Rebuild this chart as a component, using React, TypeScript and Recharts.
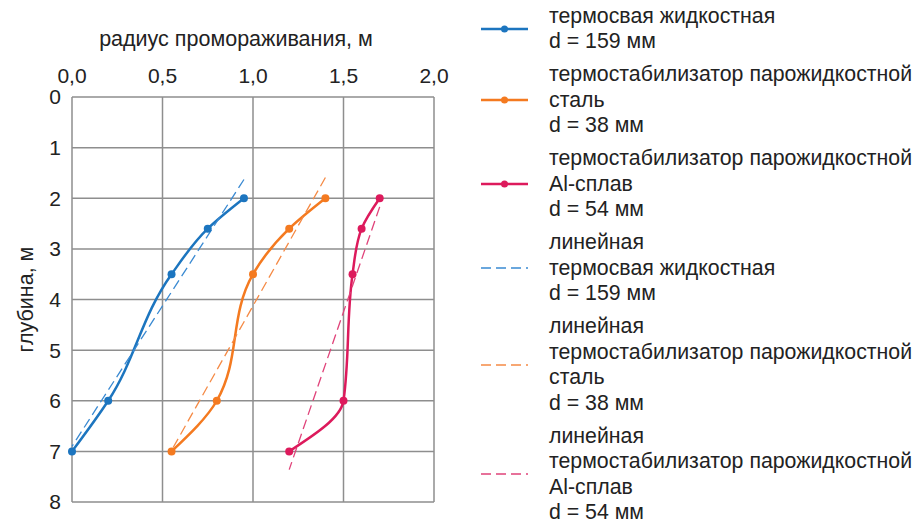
import { LineChart, Line, XAxis, YAxis, CartesianGrid } from "recharts";

// глубина, м — common to the three measured series
const depth = [2, 2.6, 3.5, 6, 7];

// радиус промораживания, м
const radiusThermos = [0.95, 0.75, 0.55, 0.2, 0];
const radiusSteel = [1.4, 1.2, 1.0, 0.8, 0.55];
const radiusAlloy = [1.7, 1.6, 1.55, 1.5, 1.2];

// linear trendline ends
const trendDepthThermos = [1.63, 6.9];
const trendRadiusThermos = [0.95, 0];
const trendDepthSteel = [1.59, 6.98];
const trendRadiusSteel = [1.4, 0.55];
const trendDepthAlloy = [2.17, 7.36];
const trendRadiusAlloy = [1.7, 1.2];

const radiusTicks = [0, 0.5, 1, 1.5, 2];
const depthTicks = [0, 1, 2, 3, 4, 5, 6, 7, 8];

const namesThermos = ["термосвая жидкостная", "d = 159 мм"];
const namesSteel = ["термостабилизатор парожидкостной", "сталь", "d = 38 мм"];
const namesAlloy = ["термостабилизатор парожидкостной", "Al-сплав", "d = 54 мм"];
const trendPrefix = "линейная";

const BLUE = "#1c75bf";
const ORANGE = "#f47a20";
const RED = "#dd1a5c";
const BLUE_T = "#3a8ad2";
const ORANGE_T = "#f58a45";
const RED_T = "#e0437a";

const FONT = "'Liberation Sans', Arial, sans-serif";
const TEXT = "#222";

const toRows = (d: number[], r: number[]) => d.map((v, i) => ({ d: v, r: r[i] }));

const series = [
  { key: "thermos", color: BLUE, rows: toRows(depth, radiusThermos), names: namesThermos },
  { key: "steel", color: ORANGE, rows: toRows(depth, radiusSteel), names: namesSteel },
  { key: "alloy", color: RED, rows: toRows(depth, radiusAlloy), names: namesAlloy },
];

const trends = [
  { key: "tThermos", color: BLUE_T, rows: toRows(trendDepthThermos, trendRadiusThermos), names: [trendPrefix, ...namesThermos] },
  { key: "tSteel", color: ORANGE_T, rows: toRows(trendDepthSteel, trendRadiusSteel), names: [trendPrefix, ...namesSteel] },
  { key: "tAlloy", color: RED_T, rows: toRows(trendDepthAlloy, trendRadiusAlloy), names: [trendPrefix, ...namesAlloy] },
];

const fmt = (v: number) => v.toFixed(1).replace(".", ",");

function LegendSample({ color, dashed }: { color: string; dashed: boolean }) {
  return (
    <svg width={47} height={10} style={{ flex: "none", marginRight: 21, marginTop: 6.5 }}>
      {dashed ? (
        <line x1={0} y1={5} x2={47} y2={5} stroke={color} strokeWidth={1.5} strokeDasharray="10 5" />
      ) : (
        <>
          <line x1={0} y1={5} x2={47} y2={5} stroke={color} strokeWidth={2.5} />
          <circle cx={23.5} cy={5} r={3.5} fill={color} />
        </>
      )}
    </svg>
  );
}

function ChartLegend() {
  const items = [
    ...series.map(s => ({ ...s, dashed: false })),
    ...trends.map(s => ({ ...s, dashed: true })),
  ];
  return (
    <div style={{ position: "absolute", left: 481, top: 0, fontSize: 21.3, color: TEXT }}>
      {items.map(it => (
        <div key={it.key} style={{ display: "flex", alignItems: "center", marginBottom: 7.5 }}>
          <LegendSample color={it.color} dashed={it.dashed} />
          <div style={{ whiteSpace: "nowrap" }}>
            {it.names.map((n, i) => (
              <div key={i} style={{ lineHeight: "19px", paddingTop: 6.5 }}>{n}</div>
            ))}
          </div>
        </div>
      ))}
    </div>
  );
}

export default function App() {
  return (
    <div style={{ position: "absolute", left: 0, top: 0, width: 915, height: 525, background: "#fff", fontFamily: FONT }}>
      <LineChart
        layout="vertical"
        width={915}
        height={525}
        margin={{ top: 0, right: 481, bottom: 23, left: 0 }}
      >
        <CartesianGrid stroke="#8e8e8e" strokeWidth={1.5} />
        <XAxis
          type="number"
          orientation="top"
          domain={[0, 2]}
          ticks={radiusTicks}
          tickFormatter={fmt}
          axisLine={false}
          tickLine={false}
          tickSize={0}
          tickMargin={14}
          height={97}
          tick={{ fill: TEXT, fontSize: 21 }}
          label={{ value: "радиус промораживания, м", position: "insideTop", offset: 31, dx: -17, fill: TEXT, fontSize: 21.5 }}
        />
        <YAxis
          type="number"
          dataKey="d"
          domain={[0, 8]}
          ticks={depthTicks}
          axisLine={false}
          tickLine={false}
          tickSize={0}
          tickMargin={11}
          width={72}
          tick={{ fill: TEXT, fontSize: 21 }}
          label={{ value: "глубина, м", angle: -90, position: "insideLeft", offset: 25, fill: TEXT, fontSize: 21.5, style: { textAnchor: "middle" } }}
        />
        {series.map(s => (
          <Line
            key={s.key}
            data={s.rows}
            dataKey="r"
            type="monotone"
            stroke={s.color}
            strokeWidth={2.5}
            dot={{ r: 4, fill: s.color, stroke: s.color, strokeWidth: 0 }}
            isAnimationActive={false}
          />
        ))}
        {trends.map(s => (
          <Line
            key={s.key}
            data={s.rows}
            dataKey="r"
            type="linear"
            stroke={s.color}
            strokeWidth={1.3}
            strokeDasharray="10 5"
            dot={false}
            isAnimationActive={false}
          />
        ))}
      </LineChart>
      <ChartLegend />
    </div>
  );
}
